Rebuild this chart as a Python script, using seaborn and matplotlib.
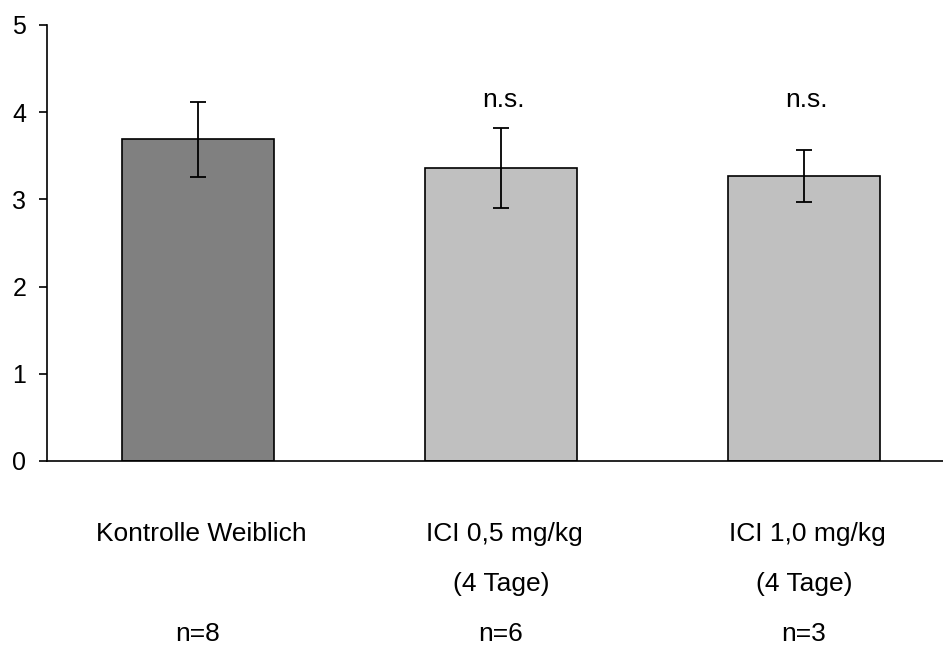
import matplotlib
matplotlib.use("Agg")
import matplotlib.pyplot as plt
import matplotlib.transforms as mtransforms
import seaborn as sns
import pandas as pd

categories = ["Kontrolle Weiblich", "ICI 0,5 mg/kg", "ICI 1,0 mg/kg"]
sublabels = ["", "(4 Tage)", "(4 Tage)"]
n_labels = ["n=8", "n=6", "n=3"]
values = [3.69, 3.36, 3.27]
errors = [0.43, 0.46, 0.30]
annotations = ["", "n.s.", "n.s."]
bar_colors = ["#808080", "#C0C0C0", "#C0C0C0"]
yticks = [0, 1, 2, 3, 4, 5]

sns.set_style("white")
plt.rcParams["font.family"] = ["Liberation Sans", "DejaVu Sans"]
plt.rcParams["text.color"] = "black"

fig = plt.figure(figsize=(9.43, 6.46), dpi=100)
ax = fig.add_axes([47 / 943, (646 - 461) / 646, (943 - 47) / 943, 436 / 646])

df = pd.DataFrame({"cat": categories, "val": values})
sns.barplot(data=df, x="cat", y="val", hue="cat", palette=bar_colors, legend=False,
            width=0.5, edgecolor="black", linewidth=1.2, ax=ax, errorbar=None)

xpos = list(range(len(categories)))
ax.errorbar(xpos, values, yerr=errors, fmt="none", ecolor="black",
            elinewidth=1.3, capsize=6, capthick=1.3, zorder=5)

ax.set_xlim(-0.498, 2.459)
ax.set_ylim(0, 5)
ax.set_yticks(yticks)
ax.set_yticklabels([str(t) for t in yticks], fontsize=18, color="black")
ax.set_xticks([])
ax.set_xlabel("")
ax.set_ylabel("")
for s in ["top", "right"]:
    ax.spines[s].set_visible(False)
for s in ["left", "bottom"]:
    ax.spines[s].set_color("black")
    ax.spines[s].set_linewidth(1.2)
ax.tick_params(axis="y", direction="out", length=6, width=1.2, pad=9, left=True, colors="black")

for x, a, v in zip(xpos, annotations, values):
    if a:
        ax.text(x + 0.01, 4.14, a, ha="center", va="center", fontsize=19, color="black")

trans = mtransforms.blended_transform_factory(ax.transData, fig.transFigure)
for x, c, s, n in zip(xpos, categories, sublabels, n_labels):
    ax.text(x + 0.01, 1 - 534 / 646, c, ha="center", va="center", fontsize=19, transform=trans, color="black")
    if s:
        ax.text(x, 1 - 584 / 646, s, ha="center", va="center", fontsize=19, transform=trans, color="black")
    ax.text(x, 1 - 634 / 646, n, ha="center", va="center", fontsize=19, transform=trans, color="black")

fig.savefig("out.png", dpi=100)
